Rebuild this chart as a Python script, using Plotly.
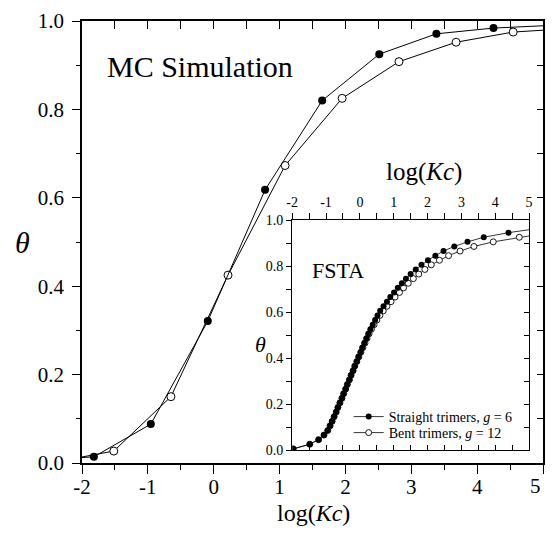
import plotly.graph_objects as go

# ---------------- data ----------------
mc_straight_x = [-2.69, -1.82, -0.955, -0.09, 0.78, 1.647, 2.514, 3.381, 4.248, 5.115]
mc_straight_y = [0.006, 0.014, 0.088, 0.321, 0.618, 0.820, 0.925, 0.971, 0.984, 0.990]
mc_bent_x = [-2.384, -1.517, -0.65, 0.217, 1.084, 1.95, 2.813, 3.68, 4.547, 5.414]
mc_bent_y = [0.003, 0.027, 0.150, 0.425, 0.673, 0.825, 0.908, 0.952, 0.975, 0.983]

fsta_straight_theta = [0.005, 0.025, 0.045, 0.065, 0.085, 0.105, 0.125, 0.145, 0.165, 0.185,
                       0.205, 0.225, 0.245, 0.265, 0.285, 0.305, 0.325, 0.345, 0.365, 0.385,
                       0.405, 0.425, 0.445, 0.465, 0.485, 0.505, 0.525, 0.545, 0.565, 0.585,
                       0.605, 0.625, 0.645, 0.665, 0.685, 0.705, 0.725, 0.745, 0.765, 0.785,
                       0.805, 0.825, 0.845, 0.865, 0.885, 0.905, 0.925, 0.945, 0.965]
fsta_straight_x = [-1.97, -1.48, -1.22, -1.06, -0.95, -0.88, -0.82, -0.76, -0.70, -0.65,
                   -0.59, -0.53, -0.48, -0.42, -0.37, -0.31, -0.26, -0.20, -0.15, -0.09,
                   -0.04, 0.02, 0.07, 0.13, 0.19, 0.25, 0.31, 0.38, 0.45, 0.52,
                   0.60, 0.70, 0.80, 0.90, 1.01, 1.12, 1.24, 1.36, 1.50, 1.65,
                   1.82, 2.01, 2.23, 2.47, 2.79, 3.18, 3.66, 4.39, 5.35]
fsta_bent_theta = [0.005, 0.025, 0.045, 0.065, 0.085, 0.105, 0.125, 0.145, 0.165, 0.185,
                   0.205, 0.225, 0.245, 0.265, 0.285, 0.305, 0.325, 0.345, 0.365, 0.385,
                   0.405, 0.425, 0.445, 0.465, 0.485, 0.505, 0.525, 0.545, 0.565, 0.585,
                   0.605, 0.625, 0.645, 0.665, 0.685, 0.705, 0.725, 0.745, 0.765, 0.785,
                   0.805, 0.825, 0.845, 0.865, 0.885, 0.905, 0.925, 0.945]
fsta_bent_x = [-1.97, -1.48, -1.22, -1.06, -0.95, -0.88, -0.82, -0.76, -0.70, -0.65,
               -0.59, -0.53, -0.48, -0.42, -0.37, -0.31, -0.26, -0.20, -0.15, -0.09,
               -0.03, 0.03, 0.09, 0.15, 0.21, 0.27, 0.34, 0.42, 0.50, 0.59,
               0.69, 0.80, 0.92, 1.04, 1.17, 1.29, 1.43, 1.58, 1.74, 1.92,
               2.11, 2.35, 2.62, 2.96, 3.37, 3.94, 4.71, 5.6]

x_tickvals = [-2, -1, 0, 1, 2, 3, 4, 5]
x_ticktext = ['-2', '-1', '0', '1', '2', '3', '4', '5']
y_tickvals = [0.0, 0.2, 0.4, 0.6, 0.8, 1.0]
y_ticktext = ['0.0', '0.2', '0.4', '0.6', '0.8', '1.0']

legend_straight = 'Straight trimers, <i>g</i> = 6'
legend_bent = 'Bent trimers, <i>g</i> = 12'

# ---------------- geometry ----------------
OFF = 8  # page body margin
W, H = 555 - 2 * OFF, 534 - 2 * OFF
L, R, T, B = 82, 547, 21, 463  # main plot box in window pixels
FONT = 'Liberation Serif, Times New Roman, serif'


def px(xp):
    return (xp - L) / (R - L)


def py(yp):
    return (B - yp) / (B - T)


fig = go.Figure()
fig.add_trace(go.Scatter(x=mc_bent_x, y=mc_bent_y, mode='lines+markers', showlegend=False,
                         line=dict(color='black', width=1),
                         marker=dict(symbol='circle', size=8, color='white',
                                     line=dict(color='black', width=1)),
                         xaxis='x', yaxis='y'))
fig.add_trace(go.Scatter(x=mc_straight_x, y=mc_straight_y, mode='lines+markers', showlegend=False,
                         line=dict(color='black', width=1),
                         marker=dict(symbol='circle', size=8, color='black'),
                         xaxis='x', yaxis='y'))
fig.add_trace(go.Scatter(x=fsta_bent_x, y=fsta_bent_theta, mode='lines+markers', name=legend_bent,
                         legend='legend2',
                         line=dict(color='black', width=0.8),
                         marker=dict(symbol='circle', size=6, color='white',
                                     line=dict(color='black', width=0.9)),
                         xaxis='x2', yaxis='y2'))
fig.add_trace(go.Scatter(x=fsta_straight_x, y=fsta_straight_theta, mode='lines+markers',
                         name=legend_straight, legend='legend',
                         line=dict(color='black', width=0.8),
                         marker=dict(symbol='circle', size=6, color='black'),
                         xaxis='x2', yaxis='y2'))
# invisible copies so that the mirrored tick axes (top / right) are drawn
fig.add_trace(go.Scatter(x=mc_straight_x, y=mc_straight_y, mode='markers', showlegend=False,
                         marker=dict(opacity=0), hoverinfo='skip', xaxis='x3', yaxis='y3'))
fig.add_trace(go.Scatter(x=fsta_straight_x, y=fsta_straight_theta, mode='markers',
                         showlegend=False, marker=dict(opacity=0), hoverinfo='skip',
                         xaxis='x4', yaxis='y4'))

ix0, ix1 = 294, 533
iy0, iy1 = 220, 450

common = dict(showgrid=False, zeroline=False, tickcolor='black', linecolor='black')
leg_common = dict(xanchor='left', yanchor='middle', bgcolor='rgba(0,0,0,0)', itemwidth=30,
                  borderwidth=0, font=dict(size=14, family=FONT, color='black'))

main_x_text = x_ticktext[:-1] + ['']  # last label drawn as annotation so it is not clipped

fig.update_layout(
    width=W, height=H,
    margin=dict(l=L - OFF, r=W - (R - OFF), t=T - OFF, b=H - (B - OFF), pad=0),
    paper_bgcolor='white', plot_bgcolor='white',
    font=dict(family=FONT, color='black'),
    xaxis=dict(domain=[0, 1], anchor='y', range=[-2, 5], tickmode='array',
               tickvals=x_tickvals, ticktext=main_x_text, ticks='outside', ticklen=9, tickwidth=1.3,
               ticklabelstandoff=-5,
               minor=dict(tickmode='linear', tick0=-2, dtick=0.5, ticks='outside', ticklen=5,
                          tickwidth=1.3, tickcolor='black'),
               showline=True, linewidth=1.6, mirror=True,
               tickfont=dict(size=21, family=FONT, color='black'), **common),
    yaxis=dict(domain=[0, 1], anchor='x', range=[0, 1], tickmode='array',
               tickvals=y_tickvals, ticktext=y_ticktext, ticks='outside', ticklen=8, tickwidth=1.3,
               ticklabelstandoff=4,
               minor=dict(tickmode='linear', tick0=0, dtick=0.1, ticks='outside', ticklen=4.5,
                          tickwidth=1.3, tickcolor='black'),
               showline=True, linewidth=1.6, mirror=True,
               tickfont=dict(size=21, family=FONT, color='black'), **common),
    xaxis3=dict(overlaying='x', anchor='y3', side='top', range=[-2, 5], tickmode='linear',
                tick0=-2, dtick=0.5, ticks='inside', ticklen=8, tickwidth=1.3,
                showticklabels=False, showline=False, **common),
    yaxis3=dict(overlaying='y', anchor='x3', side='right', range=[0, 1], tickmode='linear',
                tick0=0, dtick=0.1, ticks='inside', ticklen=6, tickwidth=1.3,
                showticklabels=False, showline=False, **common),
    xaxis2=dict(domain=[px(ix0), px(ix1)], anchor='y2', range=[-2, 5], tickmode='linear',
                tick0=-2, dtick=0.5, ticks='inside', ticklen=5, tickwidth=1,
                showticklabels=False, showline=True, linewidth=1.1, mirror=True, **common),
    yaxis2=dict(domain=[py(iy1), py(iy0)], anchor='x2', range=[0, 1], tickmode='array',
                tickvals=y_tickvals, ticktext=y_ticktext, ticks='outside', ticklen=5, tickwidth=1,
                minor=dict(tickmode='linear', tick0=0, dtick=0.1, ticks='outside', ticklen=5,
                           tickwidth=1, tickcolor='black'),
                showline=True, linewidth=1.1, mirror=True,
                tickfont=dict(size=14, family=FONT, color='black'), **common),
    xaxis4=dict(overlaying='x2', anchor='y4', side='top', range=[-2, 5], tickmode='array',
                tickvals=x_tickvals, ticktext=x_ticktext, ticks='outside', ticklen=6, tickwidth=1,
                minor=dict(tickmode='linear', tick0=-2, dtick=0.5, ticks='outside', ticklen=6,
                           tickwidth=1, tickcolor='black'),
                showline=False, tickfont=dict(size=14, family=FONT, color='black'), **common),
    yaxis4=dict(overlaying='y2', anchor='x4', side='right', range=[0, 1], tickmode='linear',
                tick0=0, dtick=0.1, ticks='inside', ticklen=5, tickwidth=1,
                showticklabels=False, showline=False, **common),
    legend=dict(x=px(351), y=py(417), **leg_common),
    legend2=dict(x=px(351), y=py(433), **leg_common),
)

ann = [
    dict(text='MC Simulation', x=px(105), y=py(67), xanchor='left', yanchor='middle',
         font=dict(size=30)),
    dict(text='FSTA', x=px(312), y=py(270), xanchor='left', yanchor='middle',
         font=dict(size=22)),
    dict(text='log(<i>Kc</i>)', x=px(316), y=py(513), xanchor='center', yanchor='middle',
         font=dict(size=24)),
    dict(text='<i>θ</i>', x=px(22), y=py(242), xanchor='center', yanchor='middle',
         font=dict(size=30)),
    dict(text='log(<i>Kc</i>)', x=px(427), y=py(172), xanchor='center', yanchor='middle',
         font=dict(size=25)),
    dict(text='<i>θ</i>', x=px(262), y=py(344), xanchor='center', yanchor='middle',
         font=dict(size=22)),
    dict(text=x_ticktext[-1], x=1, y=py(486), xanchor='right', yanchor='middle',
         font=dict(size=21)),
]
for a in ann:
    a.update(xref='paper', yref='paper', showarrow=False)
    a['font'].update(family=FONT, color='black')
fig.update_layout(annotations=ann)

fig.write_html('out.html')
